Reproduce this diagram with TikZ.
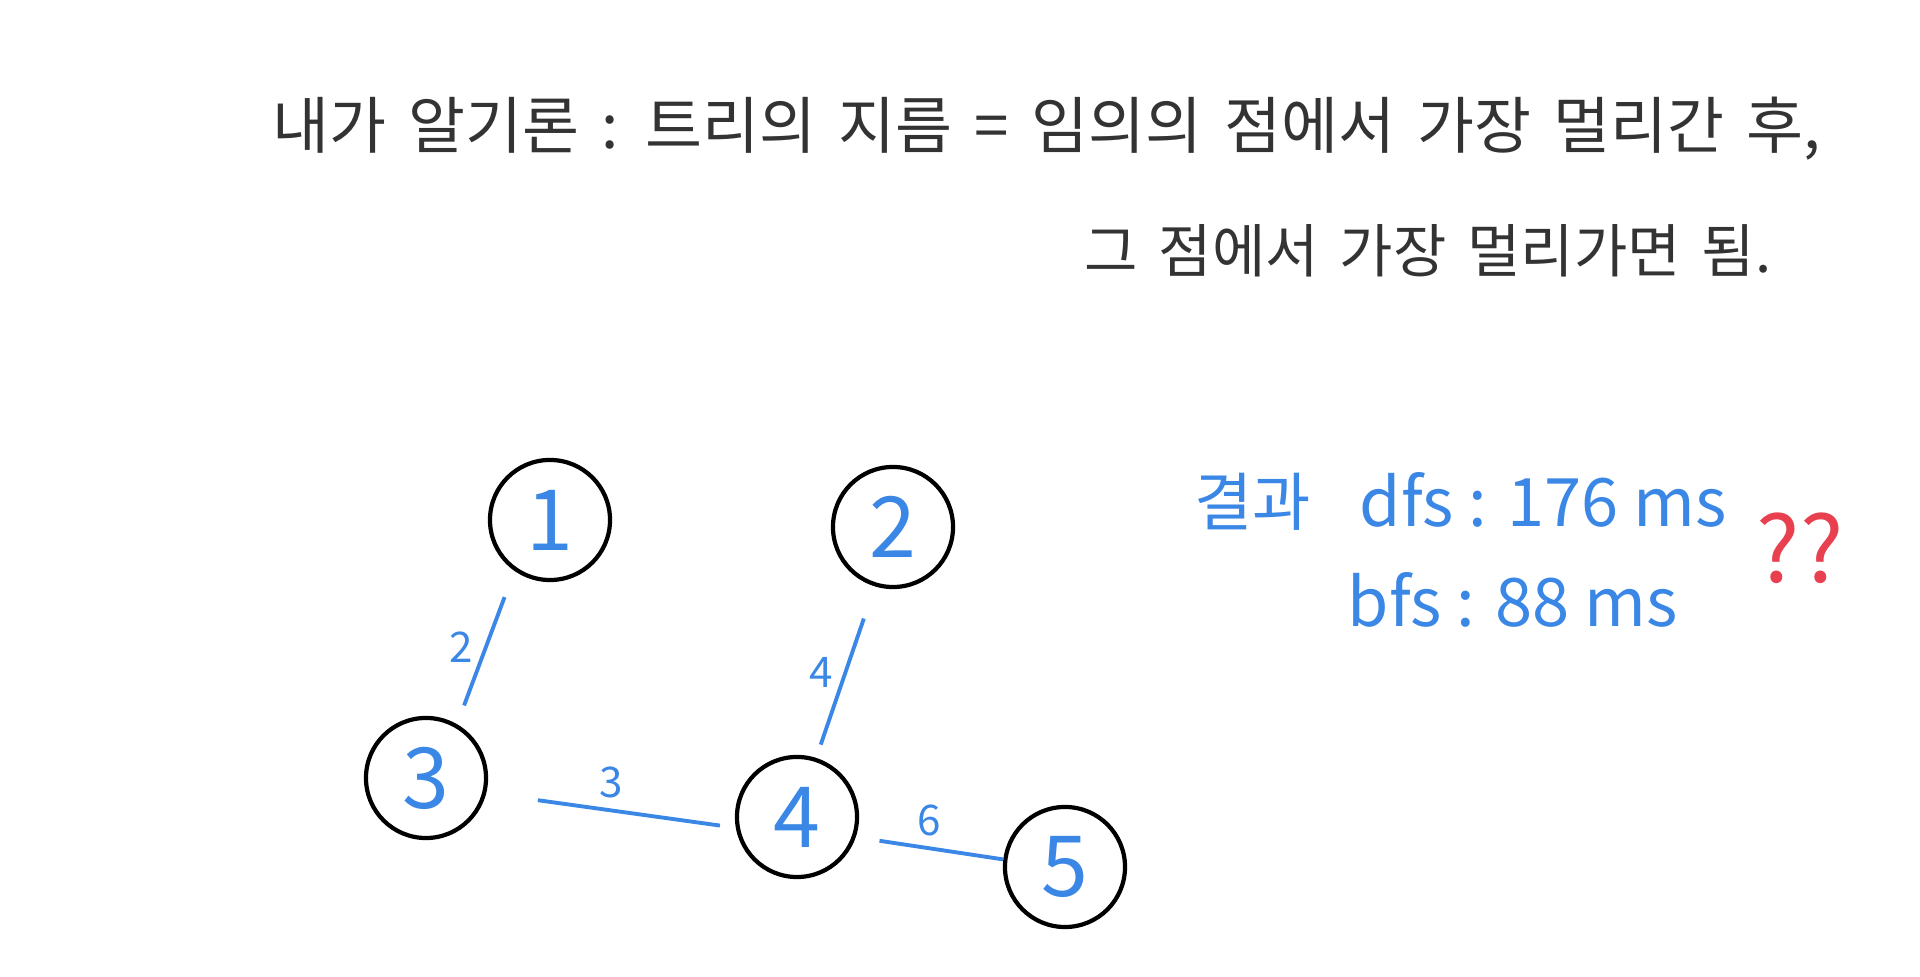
\documentclass[tikz,border=0pt]{standalone}
\usepackage{fontspec}
\usepackage{xcolor}
\usetikzlibrary{positioning}
\setmainfont{Noto Sans CJK KR}
\newfontfamily\notefont[WordSpace=1.6]{Noto Sans CJK KR}
\definecolor{penblue}{HTML}{3A87E6}
\definecolor{penred}{HTML}{E8404F}
\tikzset{
  vertex/.style={circle,draw=black,line width=1.2pt,minimum size=1.2cm,inner sep=0pt,
    text=penblue,font=\fontsize{24}{28}\selectfont},
  weightedge/.style={draw=penblue,line width=1.1pt},
  weightlabel/.style={text=penblue,font=\fontsize{12}{14}\selectfont,inner sep=3pt},
  notetext/.style={text=black!80,font=\notefont\fontsize{16.5}{20}\selectfont,
    anchor=west,inner sep=0pt},
  resulttext/.style={text=penblue,font=\fontsize{19}{23}\selectfont,anchor=west,inner sep=0pt}
}
\begin{document}
\begin{tikzpicture}[x=0.01cm,y=-0.01cm]
  \useasboundingbox (0,0) rectangle (1920,977);
  \node[notetext,font=\notefont\fontsize{17.6}{21}\selectfont] (line1) at (272,129) {내가 알기론 : 트리의 지름 = 임의의 점에서 가장 멀리간 후,};
  \node[notetext] (line2) at (1084,251) {그 점에서 가장 멀리가면 됨.};
  \node[vertex] (v1) at (550,520) {1};
  \node[vertex] (v2) at (893,527) {2};
  \node[vertex] (v3) at (426,778) {3};
  \node[vertex] (v4) at (797,817) {4};
  \node[vertex] (v5) at (1065,867) {5};
  \draw[weightedge,shorten <=0.28cm,shorten >=0.2cm] (v1.235)--node[weightlabel,left]{2}(v3.60);
  \draw[weightedge,shorten <=0.34cm,shorten >=0.14cm] (v2.253)--node[weightlabel,left]{4}(v4.72);
  \draw[weightedge,shorten <=0.52cm,shorten >=0.16cm] (v3.-14)--node[weightlabel,above]{3}(v4.190);
  \draw[weightedge,shorten <=0.24cm] (v4.-19)--node[weightlabel,above]{6}(v5.173);
  \node[resulttext,font=\fontsize{18}{22}\selectfont] (result) at (1194,502) {결과};
  \node[resulttext] (dfs) at (1359,500) {dfs : 176 ms};
  \node[resulttext] (bfs) at (1347,600) {bfs : 88 ms};
  \node[text=penred,font=\fontsize{26}{30}\selectfont] (huh) at (1800,548) {??};
\end{tikzpicture}
\end{document}
